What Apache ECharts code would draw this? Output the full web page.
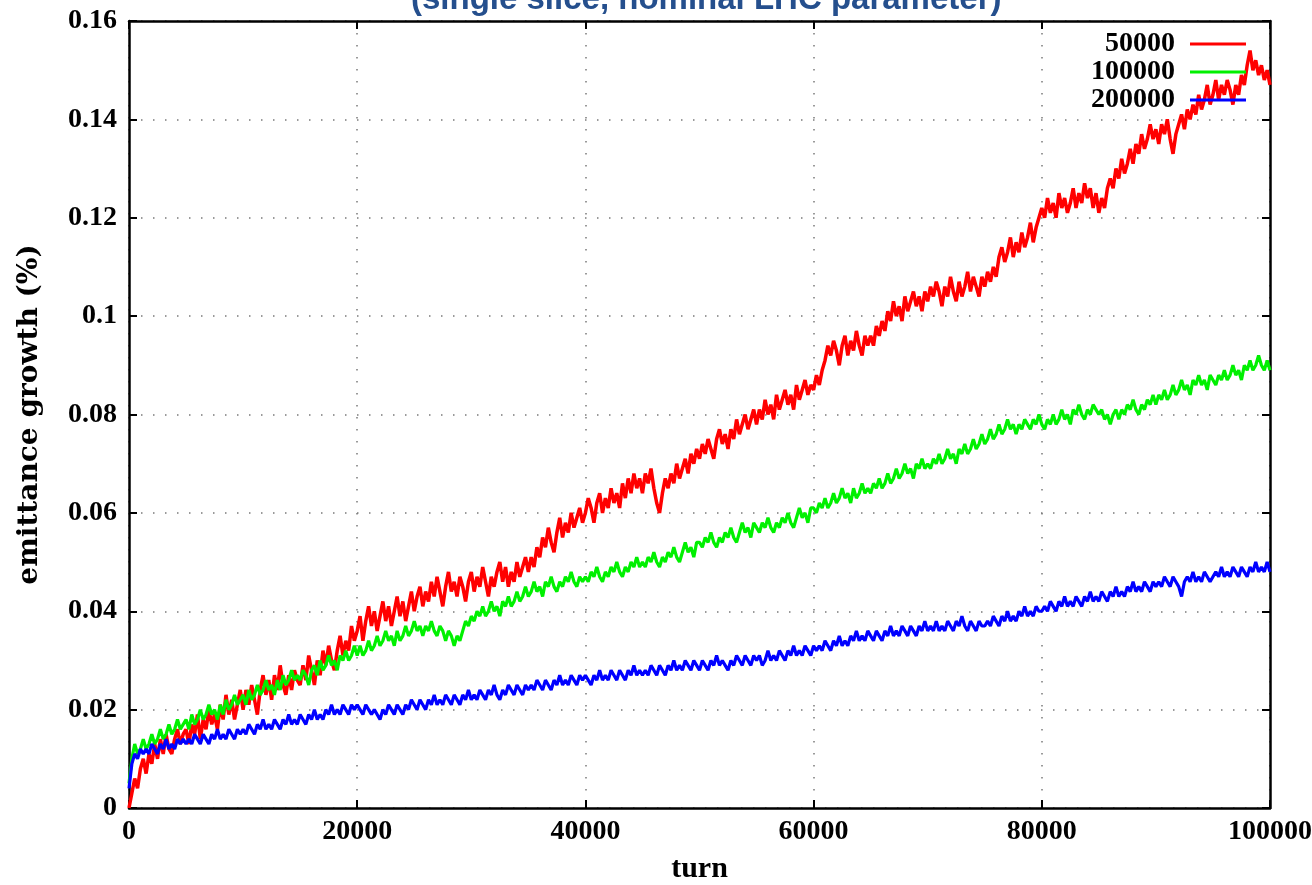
<!DOCTYPE html>
<html>
<head>
<meta charset="utf-8">
<script src="https://cdn.jsdelivr.net/npm/echarts@6/dist/echarts.min.js"></script>
<style>
  html, body { margin: 0; padding: 0; background: #ffffff; }
  #chart { width: 1312px; height: 885px; }
</style>
</head>
<body>
<div id="chart"></div>
<script>
// Emittance growth (%) versus turn, sampled every SAMPLE_STEP turns.
const SAMPLE_STEP = 250;

const seriesNames = ['50000', '100000', '200000'];

const growth50000 = [
  0, 0.003, 0.006, 0.004, 0.008, 0.010, 0.007, 0.011, 0.009, 0.013, 0.010, 0.014, 0.011, 0.015, 0.012, 0.011, 0.014, 0.016, 0.013, 0.015,
  0.016, 0.013, 0.017, 0.015, 0.019, 0.014, 0.018, 0.016, 0.020, 0.017, 0.019, 0.016, 0.021, 0.018, 0.023, 0.019, 0.022, 0.018, 0.021, 0.024,
  0.020, 0.024, 0.021, 0.025, 0.022, 0.019, 0.024, 0.027, 0.023, 0.026, 0.022, 0.027, 0.024, 0.029, 0.025, 0.023, 0.027, 0.024, 0.028, 0.026,
  0.025, 0.029, 0.026, 0.031, 0.028, 0.025, 0.030, 0.027, 0.032, 0.029, 0.033, 0.030, 0.028, 0.032, 0.035, 0.031, 0.034, 0.032, 0.037, 0.034,
  0.036, 0.039, 0.034, 0.038, 0.041, 0.037, 0.040, 0.036, 0.039, 0.042, 0.038, 0.041, 0.037, 0.040, 0.043, 0.039, 0.042, 0.038, 0.041, 0.044,
  0.040, 0.043, 0.045, 0.041, 0.044, 0.042, 0.046, 0.043, 0.047, 0.044, 0.041, 0.045, 0.048, 0.044, 0.046, 0.043, 0.047, 0.045, 0.042, 0.046,
  0.048, 0.044, 0.047, 0.045, 0.049, 0.046, 0.043, 0.047, 0.045, 0.048, 0.050, 0.046, 0.049, 0.045, 0.048, 0.046, 0.050, 0.047, 0.049, 0.051,
  0.048, 0.051, 0.049, 0.053, 0.051, 0.055, 0.053, 0.057, 0.054, 0.052, 0.056, 0.059, 0.055, 0.058, 0.056, 0.060, 0.057, 0.059, 0.061, 0.058,
  0.060, 0.063, 0.061, 0.058, 0.062, 0.064, 0.060, 0.063, 0.061, 0.065, 0.062, 0.064, 0.061, 0.066, 0.063, 0.067, 0.064, 0.068, 0.065, 0.067,
  0.064, 0.068, 0.066, 0.069, 0.065, 0.062, 0.060, 0.064, 0.067, 0.065, 0.068, 0.066, 0.070, 0.067, 0.069, 0.071, 0.068, 0.072, 0.070, 0.073,
  0.071, 0.074, 0.072, 0.075, 0.073, 0.071, 0.075, 0.077, 0.074, 0.076, 0.073, 0.077, 0.075, 0.079, 0.076, 0.078, 0.080, 0.077, 0.079, 0.081,
  0.078, 0.081, 0.079, 0.083, 0.080, 0.082, 0.079, 0.084, 0.081, 0.083, 0.085, 0.082, 0.084, 0.081, 0.086, 0.083, 0.085, 0.087, 0.084, 0.086,
  0.085, 0.088, 0.086, 0.089, 0.091, 0.094, 0.092, 0.095, 0.093, 0.090, 0.094, 0.096, 0.092, 0.095, 0.093, 0.097, 0.094, 0.092, 0.096, 0.094,
  0.096, 0.094, 0.098, 0.096, 0.099, 0.097, 0.101, 0.099, 0.103, 0.100, 0.102, 0.099, 0.104, 0.101, 0.103, 0.105, 0.102, 0.104, 0.101, 0.105,
  0.103, 0.106, 0.104, 0.107, 0.105, 0.102, 0.106, 0.104, 0.108, 0.105, 0.103, 0.107, 0.104, 0.106, 0.109, 0.105, 0.108, 0.106, 0.104, 0.108,
  0.106, 0.109, 0.107, 0.110, 0.108, 0.112, 0.114, 0.111, 0.113, 0.116, 0.112, 0.115, 0.113, 0.117, 0.114, 0.116, 0.119, 0.115, 0.118, 0.120,
  0.122, 0.120, 0.124, 0.121, 0.123, 0.120, 0.125, 0.122, 0.124, 0.121, 0.123, 0.126, 0.122, 0.125, 0.123, 0.127, 0.124, 0.126, 0.122, 0.125,
  0.121, 0.124, 0.122, 0.126, 0.128, 0.126, 0.130, 0.128, 0.132, 0.129, 0.131, 0.134, 0.131, 0.135, 0.133, 0.137, 0.134, 0.136, 0.139, 0.136,
  0.138, 0.135, 0.139, 0.137, 0.140, 0.136, 0.133, 0.137, 0.139, 0.141, 0.138, 0.142, 0.140, 0.143, 0.141, 0.145, 0.142, 0.144, 0.147, 0.143,
  0.145, 0.148, 0.144, 0.147, 0.145, 0.148, 0.146, 0.143, 0.147, 0.145, 0.149, 0.147, 0.151, 0.154, 0.150, 0.152, 0.149, 0.151, 0.148, 0.150,
  0.147
];

const growth100000 = [
  0.005, 0.010, 0.013, 0.011, 0.012, 0.014, 0.012, 0.013, 0.015, 0.013, 0.014, 0.016, 0.014, 0.015, 0.017, 0.015, 0.016, 0.018, 0.016, 0.017,
  0.018, 0.016, 0.019, 0.017, 0.018, 0.020, 0.018, 0.019, 0.021, 0.019, 0.020, 0.018, 0.021, 0.019, 0.022, 0.020, 0.021, 0.023, 0.021, 0.022,
  0.023, 0.021, 0.024, 0.022, 0.023, 0.025, 0.023, 0.024, 0.026, 0.024, 0.025, 0.023, 0.026, 0.024, 0.027, 0.025, 0.026, 0.028, 0.026, 0.027,
  0.026, 0.028, 0.027, 0.025, 0.028, 0.029, 0.027, 0.030, 0.028, 0.029, 0.031, 0.029, 0.030, 0.028, 0.031, 0.030, 0.032, 0.030, 0.031, 0.033,
  0.031, 0.033, 0.031, 0.032, 0.034, 0.032, 0.033, 0.035, 0.033, 0.034, 0.036, 0.034, 0.035, 0.033, 0.036, 0.034, 0.035, 0.037, 0.035, 0.036,
  0.038, 0.036, 0.037, 0.035, 0.037, 0.036, 0.038, 0.036, 0.035, 0.037, 0.036, 0.034, 0.036, 0.035, 0.033, 0.035, 0.034, 0.036, 0.038, 0.037,
  0.039, 0.038, 0.040, 0.039, 0.041, 0.039, 0.040, 0.042, 0.040, 0.041, 0.039, 0.042, 0.041, 0.043, 0.041, 0.042, 0.044, 0.042, 0.043, 0.045,
  0.043, 0.044, 0.046, 0.044, 0.045, 0.043, 0.046, 0.045, 0.047, 0.045, 0.044, 0.046, 0.045, 0.047, 0.046, 0.048, 0.046, 0.045, 0.047, 0.046,
  0.047, 0.046, 0.048, 0.047, 0.049, 0.047, 0.046, 0.048, 0.047, 0.049, 0.048, 0.050, 0.048, 0.047, 0.049, 0.048, 0.050, 0.049, 0.051, 0.049,
  0.050, 0.049, 0.051, 0.050, 0.052, 0.050, 0.049, 0.051, 0.050, 0.052, 0.051, 0.053, 0.051, 0.050, 0.052, 0.054, 0.052, 0.053, 0.051, 0.054,
  0.054, 0.053, 0.055, 0.054, 0.056, 0.054, 0.053, 0.055, 0.054, 0.056, 0.055, 0.057, 0.055, 0.054, 0.056, 0.058, 0.056, 0.057, 0.055, 0.058,
  0.057, 0.056, 0.058, 0.057, 0.059, 0.057, 0.056, 0.058, 0.057, 0.059, 0.058, 0.060, 0.058, 0.057, 0.059, 0.061, 0.059, 0.060, 0.058, 0.061,
  0.061, 0.060, 0.062, 0.061, 0.063, 0.061, 0.062, 0.064, 0.062, 0.063, 0.065, 0.063, 0.064, 0.062, 0.065, 0.063, 0.064, 0.066, 0.064, 0.065,
  0.064, 0.066, 0.065, 0.067, 0.065, 0.066, 0.068, 0.066, 0.067, 0.069, 0.067, 0.068, 0.070, 0.068, 0.069, 0.067, 0.070, 0.069, 0.071, 0.069,
  0.070, 0.069, 0.071, 0.070, 0.072, 0.070, 0.071, 0.073, 0.071, 0.072, 0.070, 0.073, 0.072, 0.074, 0.072, 0.073, 0.075, 0.073, 0.074, 0.076,
  0.074, 0.075, 0.077, 0.075, 0.076, 0.078, 0.076, 0.077, 0.079, 0.077, 0.078, 0.076, 0.078, 0.077, 0.079, 0.078, 0.077, 0.079, 0.078, 0.080,
  0.078, 0.077, 0.079, 0.078, 0.080, 0.078, 0.079, 0.081, 0.079, 0.080, 0.078, 0.081, 0.080, 0.082, 0.080, 0.079, 0.081, 0.080, 0.082, 0.081,
  0.080, 0.081, 0.079, 0.080, 0.078, 0.080, 0.081, 0.079, 0.081, 0.080, 0.082, 0.081, 0.083, 0.081, 0.080, 0.082, 0.081, 0.083, 0.082, 0.084,
  0.082, 0.084, 0.083, 0.085, 0.083, 0.084, 0.086, 0.084, 0.085, 0.087, 0.085, 0.086, 0.084, 0.087, 0.086, 0.088, 0.086, 0.087, 0.085, 0.088,
  0.087, 0.086, 0.088, 0.087, 0.089, 0.087, 0.088, 0.090, 0.088, 0.089, 0.087, 0.090, 0.089, 0.091, 0.089, 0.090, 0.092, 0.090, 0.089, 0.091,
  0.089
];

const growth200000 = [
  0.004, 0.009, 0.011, 0.010, 0.012, 0.011, 0.012, 0.011, 0.013, 0.012, 0.011, 0.013, 0.012, 0.014, 0.012, 0.013, 0.012, 0.014, 0.013, 0.014,
  0.013, 0.014, 0.013, 0.015, 0.014, 0.013, 0.015, 0.014, 0.013, 0.015, 0.014, 0.016, 0.014, 0.015, 0.014, 0.016, 0.015, 0.014, 0.016, 0.015,
  0.016, 0.015, 0.017, 0.016, 0.015, 0.017, 0.016, 0.018, 0.016, 0.017, 0.016, 0.018, 0.017, 0.016, 0.018, 0.017, 0.019, 0.017, 0.018, 0.017,
  0.019, 0.018, 0.017, 0.019, 0.018, 0.020, 0.018, 0.019, 0.018, 0.020, 0.019, 0.021, 0.019, 0.020, 0.019, 0.021, 0.020, 0.019, 0.021, 0.020,
  0.021, 0.020, 0.019, 0.021, 0.020, 0.019, 0.020, 0.019, 0.018, 0.020, 0.019, 0.021, 0.020, 0.019, 0.021, 0.020, 0.019, 0.021, 0.020, 0.022,
  0.021, 0.020, 0.022, 0.021, 0.020, 0.022, 0.021, 0.023, 0.021, 0.022, 0.021, 0.023, 0.022, 0.021, 0.023, 0.022, 0.021, 0.023, 0.022, 0.024,
  0.022, 0.023, 0.022, 0.024, 0.023, 0.022, 0.024, 0.023, 0.025, 0.023, 0.022, 0.024, 0.023, 0.025, 0.024, 0.023, 0.025, 0.024, 0.023, 0.025,
  0.024, 0.025, 0.024, 0.026, 0.025, 0.024, 0.026, 0.025, 0.024, 0.026, 0.025, 0.027, 0.025, 0.026, 0.025, 0.027, 0.026, 0.025, 0.027, 0.026,
  0.027, 0.026, 0.025, 0.027, 0.026, 0.028, 0.026, 0.027, 0.026, 0.028, 0.027, 0.026, 0.028, 0.027, 0.026, 0.028, 0.027, 0.029, 0.027, 0.028,
  0.027, 0.028, 0.027, 0.029, 0.028, 0.027, 0.029, 0.028, 0.027, 0.029, 0.028, 0.030, 0.028, 0.029, 0.028, 0.030, 0.029, 0.028, 0.030, 0.029,
  0.028, 0.030, 0.029, 0.028, 0.030, 0.029, 0.031, 0.029, 0.030, 0.029, 0.028, 0.030, 0.029, 0.031, 0.030, 0.029, 0.031, 0.030, 0.029, 0.031,
  0.030, 0.031, 0.029, 0.030, 0.032, 0.030, 0.031, 0.030, 0.032, 0.031, 0.030, 0.032, 0.031, 0.033, 0.031, 0.032, 0.031, 0.033, 0.032, 0.031,
  0.033, 0.032, 0.033, 0.032, 0.034, 0.033, 0.032, 0.034, 0.033, 0.035, 0.033, 0.034, 0.033, 0.035, 0.034, 0.036, 0.034, 0.035, 0.034, 0.036,
  0.035, 0.034, 0.036, 0.035, 0.034, 0.036, 0.035, 0.037, 0.035, 0.036, 0.035, 0.037, 0.036, 0.035, 0.037, 0.036, 0.035, 0.037, 0.036, 0.038,
  0.036, 0.037, 0.036, 0.038, 0.036, 0.037, 0.036, 0.038, 0.037, 0.036, 0.038, 0.037, 0.039, 0.037, 0.036, 0.038, 0.037, 0.036, 0.038, 0.037,
  0.037, 0.038, 0.037, 0.039, 0.038, 0.037, 0.039, 0.038, 0.040, 0.038, 0.039, 0.038, 0.040, 0.039, 0.041, 0.039, 0.040, 0.039, 0.041, 0.040,
  0.040, 0.041, 0.040, 0.042, 0.041, 0.040, 0.042, 0.041, 0.043, 0.041, 0.042, 0.041, 0.043, 0.042, 0.041, 0.043, 0.042, 0.044, 0.042, 0.043,
  0.042, 0.044, 0.043, 0.042, 0.044, 0.043, 0.045, 0.043, 0.044, 0.043, 0.045, 0.044, 0.046, 0.044, 0.045, 0.044, 0.046, 0.045, 0.044, 0.046,
  0.045, 0.046, 0.045, 0.047, 0.046, 0.045, 0.047, 0.046, 0.045, 0.043, 0.046, 0.047, 0.046, 0.048, 0.046, 0.047, 0.046, 0.048, 0.047, 0.046,
  0.047, 0.048, 0.047, 0.049, 0.047, 0.048, 0.047, 0.049, 0.048, 0.047, 0.049, 0.048, 0.047, 0.049, 0.048, 0.050, 0.048, 0.049, 0.048, 0.050,
  0.048
];

const seriesColors = ['#ff0000', '#00f000', '#0000ff'];
const seriesWidths = [3.5, 3.2, 3.2];
const seriesValues = [growth50000, growth100000, growth200000];

const xTickLabels = ['0', '20000', '40000', '60000', '80000', '100000'];

const titleText = '(single slice, nominal LHC parameter)';
const xAxisName = 'turn';
const yAxisName = 'emittance growth (%)';

// Pair every stored value with its turn number.
function toPoints(values) {
  return values.map((v, i) => [i * SAMPLE_STEP, v]);
}

const tickFont = {
  fontFamily: 'Liberation Serif, Times New Roman, serif',
  fontWeight: 'bold',
  fontSize: 28,
  color: '#000'
};

const gridDots = { color: '#7a7a7a', width: 1.5, type: [1.5, 10.5] };
const frameLine = { color: '#000', width: 2.5 };
const innerTick = { show: true, inside: true, length: 8, lineStyle: { color: '#000', width: 2 } };

const chart = echarts.init(document.getElementById('chart'), null, { renderer: 'canvas' });

chart.setOption({
  animation: false,
  backgroundColor: '#ffffff',
  title: {
    text: titleText,
    left: 411,
    top: -17,
    padding: 0,
    textStyle: {
      fontFamily: 'Liberation Sans, Arial, sans-serif',
      fontWeight: 'bold',
      fontSize: 33,
      color: '#254f8d'
    }
  },
  grid: { left: 129, right: 42, top: 21, bottom: 77, outerBoundsMode: 'none', containLabel: false },
  legend: {
    data: seriesNames,
    orient: 'vertical',
    right: 66,
    top: 30,
    padding: 0,
    align: 'right',
    icon: 'rect',
    itemWidth: 56,
    itemHeight: 3,
    itemGap: 0,
    textStyle: Object.assign({}, tickFont, { lineHeight: 24, padding: [0, 10, 0, 0] })
  },
  xAxis: [
    {
      type: 'value',
      min: 0, max: 100000, interval: 20000,
      name: xAxisName,
      nameLocation: 'middle',
      nameGap: 46,
      nameTextStyle: Object.assign({}, tickFont, { fontSize: 30 }),
      axisLine: { show: true, onZero: false, lineStyle: frameLine },
      axisTick: innerTick,
      axisLabel: Object.assign({
        margin: 10,
        formatter: (v) => xTickLabels[Math.round(v / 20000)] || String(v)
      }, tickFont),
      splitLine: { show: true, lineStyle: gridDots }
    },
    {
      type: 'value', position: 'top',
      min: 0, max: 100000, interval: 20000,
      axisLine: { show: true, onZero: false, lineStyle: frameLine },
      axisTick: innerTick,
      axisLabel: { show: false },
      splitLine: { show: false }
    }
  ],
  yAxis: [
    {
      type: 'value',
      min: 0, max: 0.16, interval: 0.02,
      name: yAxisName,
      nameLocation: 'middle',
      nameGap: 85,
      nameTextStyle: {
        fontFamily: 'DejaVu Serif, serif',
        fontWeight: 'bold',
        fontSize: 28,
        color: '#000'
      },
      axisLine: { show: true, onZero: false, lineStyle: frameLine },
      axisTick: innerTick,
      axisLabel: Object.assign({ margin: 12 }, tickFont),
      splitLine: { show: true, lineStyle: gridDots }
    },
    {
      type: 'value', position: 'right',
      min: 0, max: 0.16, interval: 0.02,
      axisLine: { show: true, onZero: false, lineStyle: frameLine },
      axisTick: innerTick,
      axisLabel: { show: false },
      splitLine: { show: false }
    }
  ],
  series: seriesNames.map((name, k) => ({
    name: name,
    type: 'line',
    xAxisIndex: 0,
    yAxisIndex: 0,
    data: toPoints(seriesValues[k]),
    showSymbol: false,
    symbol: 'none',
    color: seriesColors[k],
    lineStyle: { color: seriesColors[k], width: seriesWidths[k] },
    z: 2 + k
  }))
});
</script>
</body>
</html>
